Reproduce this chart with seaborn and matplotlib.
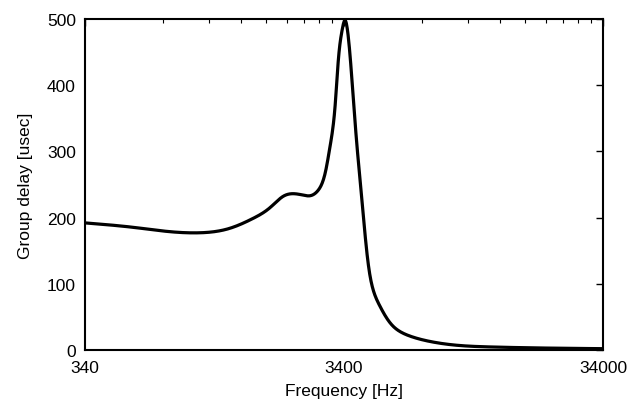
import numpy as np
import pandas as pd
import matplotlib
matplotlib.use("Agg")
import matplotlib.pyplot as plt
from matplotlib.ticker import FixedLocator, NullFormatter, FixedFormatter
import seaborn as sns

freq_hz = [340, 530, 711, 929, 1212, 1501, 1761, 1977, 2199, 2361, 2513, 2699,
           2871, 3002, 3139, 3224, 3339, 3431, 3523, 3651, 3818, 3992, 4173,
           4285, 4683, 5258, 6113, 7505, 10150, 12780, 19940, 34000]
delay_usec = [192, 185, 179, 177, 183, 198, 215, 232, 236, 234, 233, 241,
              266, 307, 367, 432, 482, 498, 477, 407, 307, 225, 145,
              112, 66, 36, 21, 12, 6, 4.5, 3, 2]
x_ticks = [340, 3400, 34000]
x_tick_labels = ["340", "3400", "34000"]
y_ticks = [0, 100, 200, 300, 400, 500]

sns.set_style("white")
plt.rcParams['font.family'] = ['Liberation Sans', 'DejaVu Sans']
plt.rcParams.update({"text.color": "black", "axes.labelcolor": "black",
                     "xtick.color": "black", "ytick.color": "black"})


def natural_spline(xk, yk, xs):
    n = len(xk)
    h = np.diff(xk)
    A = np.zeros((n, n))
    r = np.zeros(n)
    A[0, 0] = 1
    A[-1, -1] = 1
    for i in range(1, n - 1):
        A[i, i - 1] = h[i - 1]
        A[i, i] = 2 * (h[i - 1] + h[i])
        A[i, i + 1] = h[i]
        r[i] = 6 * ((yk[i + 1] - yk[i]) / h[i] - (yk[i] - yk[i - 1]) / h[i - 1])
    M = np.linalg.solve(A, r)
    idx = np.clip(np.searchsorted(xk, xs) - 1, 0, n - 2)
    x0, x1 = xk[idx], xk[idx + 1]
    hh = x1 - x0
    a = (x1 - xs) / hh
    b = (xs - x0) / hh
    return (a * yk[idx] + b * yk[idx + 1]
            + ((a**3 - a) * M[idx] + (b**3 - b) * M[idx + 1]) * hh**2 / 6)


df = pd.DataFrame({"f": freq_hz, "d": delay_usec})
lf = np.log10(df["f"].values.astype(float))
ld = np.log10(df["d"].values.astype(float))
fine = np.linspace(lf.min(), lf.max(), 1200)
dfs = pd.DataFrame({"f": 10**fine, "d": 10**natural_spline(lf, ld, fine)})

fig = plt.figure(figsize=(6.39, 4.06), dpi=100)
ax = fig.add_axes([85/639, 1 - 351/406, (603-85)/639, (351-20)/406])
sns.lineplot(data=dfs, x="f", y="d", ax=ax, color="black", linewidth=2.3)
ax.set_xscale("log")
ax.set_xlim(340, 34000)
ax.set_ylim(0, 500)
ax.xaxis.set_major_locator(FixedLocator(x_ticks))
ax.xaxis.set_major_formatter(FixedFormatter(x_tick_labels))
minors = [340 * k * 10**n for n in range(2) for k in range(2, 10)]
ax.xaxis.set_minor_locator(FixedLocator(minors))
ax.xaxis.set_minor_formatter(NullFormatter())
ax.set_yticks(y_ticks)
ax.tick_params(which="both", direction="in", top=True, right=True,
               color="black", labelcolor="black", labelsize=12.5)
ax.tick_params(which="major", length=5, width=1)
ax.tick_params(which="minor", length=3, width=0.8)
ax.tick_params(axis="x", which="major", pad=7.5)
ax.tick_params(axis="y", which="major", pad=6.5)
for s in ax.spines.values():
    s.set_color("black"); s.set_linewidth(1.5)
ax.set_xlabel("Frequency [Hz]", fontsize=12.5, labelpad=5.5, color="black")
ax.set_ylabel("Group delay [usec]", fontsize=12.5, labelpad=10, color="black")
fig.savefig("out.png", dpi=100)
